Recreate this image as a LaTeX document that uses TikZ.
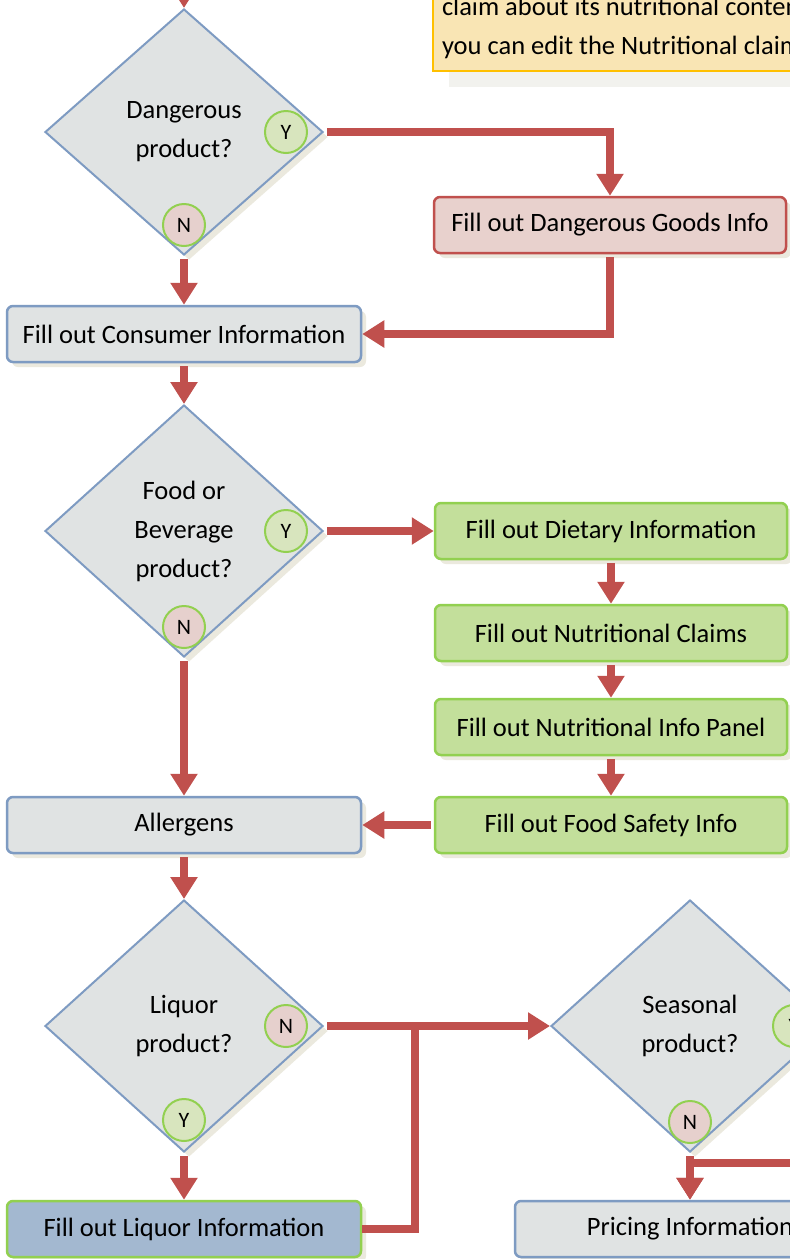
\documentclass[tikz,border=0pt]{standalone}
\usepackage{fontspec}
\setmainfont{Carlito}
\usetikzlibrary{shapes.geometric,arrows.meta,shadows}
\definecolor{flowred}{HTML}{C0504D}
\definecolor{boxgray}{HTML}{E0E3E3}
\definecolor{boxblue}{HTML}{7E9BC2}
\definecolor{dangerpink}{HTML}{E8D1CD}
\definecolor{foodgreen}{HTML}{C3DF9B}
\definecolor{stepgreen}{HTML}{92D050}
\definecolor{liqblue}{HTML}{A3B8D0}
\definecolor{yesgreen}{HTML}{D8E5BE}
\definecolor{nopink}{HTML}{E6D0CD}
\definecolor{notefill}{HTML}{F9E5B4}
\definecolor{noteedge}{HTML}{FFC000}
\definecolor{shadowbeige}{HTML}{EBE9DE}
\definecolor{noteshadow}{HTML}{F2F2EE}
\begin{document}
\begin{tikzpicture}[x=1pt,y=-1pt,
  font=\fontsize{26.5}{39}\selectfont,
  shad/.style={drop shadow={shadow xshift=5pt,shadow yshift=-5pt,fill=shadowbeige,opacity=1}},
  decision/.style={diamond,draw=boxblue,line width=2pt,fill=boxgray,minimum width=278pt,
    minimum height=252pt,inner sep=0pt,align=center,shad},
  box/.style={rectangle,rounded corners=6pt,line width=2.5pt,minimum width=352pt,
    minimum height=56pt,inner sep=0pt,shad},
  plain/.style={box,draw=boxblue,fill=boxgray},
  danger/.style={box,draw=flowred,fill=dangerpink},
  foodbox/.style={box,draw=stepgreen,fill=foodgreen},
  liqbox/.style={box,draw=stepgreen,fill=liqblue},
  yes/.style={circle,draw=stepgreen,line width=2pt,fill=yesgreen,minimum size=42pt,
    inner sep=0pt,font=\fontsize{22}{23}\selectfont},
  no/.style={yes,fill=nopink},
  note/.style={rectangle,draw=noteedge,line width=2pt,fill=notefill,align=left,
    inner xsep=9pt,inner ysep=12pt,
    drop shadow={shadow xshift=16pt,shadow yshift=-16pt,fill=noteshadow,opacity=1}},
  flow/.style={draw=flowred,line width=8pt,shorten <=3pt,-{Triangle[width=26pt,length=22pt]}},
  link/.style={draw=flowred,line width=8pt}]
\useasboundingbox (0,0) rectangle (790,1259);
\fill[white] (0,0) rectangle (790,1259);
\clip (0,0) rectangle (790,1259);

\node[note,anchor=south west] (tip) at (432,72) {claim about its nutritional content\\you can edit the Nutritional claims};

% first question
\node[decision,minimum height=246pt] (dg) at (184,132) {Dangerous\\product?};
\node[yes] (dgY) at ([xshift=-38pt]dg.east) {Y};
\node[no] (dgN) at ([yshift=31pt]dg.south) {N};
\node[danger] (dgInfo) at (610,225) {Fill out Dangerous Goods Info};
\node[plain,minimum width=354pt] (consumer) at (184,334) {Fill out Consumer Information};

% food branch
\node[decision] (food) at (184,531) {Food or\\Beverage\\product?};
\node[yes] (foodY) at ([xshift=-38pt]food.east) {Y};
\node[no] (foodN) at ([yshift=31pt]food.south) {N};
\node[foodbox] (diet) at (611,531) {Fill out Dietary Information};
\node[foodbox] (claims) at (611,633) {Fill out Nutritional Claims};
\node[foodbox] (panel) at (611,727) {Fill out Nutritional Info Panel};
\node[foodbox] (safety) at (611,825) {Fill out Food Safety Info};
\node[plain,minimum width=354pt] (allergens) at (184,825) {Allergens};

% liquor and season
\node[decision] (liq) at (184,1026) {Liquor\\product?};
\node[no] (liqN) at ([xshift=-38pt]liq.east) {N};
\node[yes] (liqY) at ([yshift=33pt]liq.south) {Y};
\node[liqbox,minimum width=354pt] (liqBox) at (184,1229) {Fill out Liquor Information};
\node[decision] (season) at (690,1026) {Seasonal\\product?};
\node[yes] (seasonY) at ([xshift=-36pt]season.east) {Y};
\node[no] (seasonN) at ([yshift=31pt]season.south) {N};
\node[plain,minimum width=350pt] (pricing) at (690,1229) {Pricing Information};

\coordinate (entry) at (184,-30);
\coordinate (merge) at (415,1026);
\coordinate (fromright) at (830,1163);

\draw[flow] (entry) -- (dg.north);
\draw[flow] (dg.east) -| (dgInfo.north);
\draw[flow] (dgInfo.south) |- (consumer.east);
\draw[flow] (dg.south) -- (consumer.north);
\draw[flow] (consumer.south) -- (food.north);
\draw[flow] (food.east) -- (diet.west);
\draw[flow] (diet.south) -- (claims.north);
\draw[flow] (claims.south) -- (panel.north);
\draw[flow] (panel.south) -- (safety.north);
\draw[flow] (safety.west) -- (allergens.east);
\draw[flow] (food.south) -- (allergens.north);
\draw[flow] (allergens.south) -- (liq.north);
\draw[flow] (liq.east) -- (season.west);
\draw[flow] (liq.south) -- (liqBox.north);
\draw[link] (liqBox.east) -| (merge);
\draw[flow] (fromright) -| (pricing.north);
\draw[flow] (season.south) -- (pricing.north);
\end{tikzpicture}
\end{document}
